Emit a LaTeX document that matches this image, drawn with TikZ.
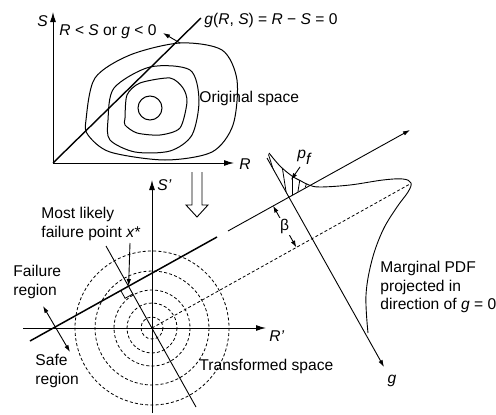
\documentclass[tikz,border=0pt]{standalone}
\usepackage{fontspec}
\setmainfont{Liberation Sans}
\usetikzlibrary{arrows.meta, calc}

\begin{document}
\begin{tikzpicture}[x=1pt, y=-1pt, >={Latex[length=7pt,width=4.5pt]},
  font=\fontsize{15.6}{18.5}\selectfont, line width=0.9pt,
  axis/.style={-{Latex[length=10pt,width=6pt]}, line width=1pt},
  lbl/.style={inner sep=0pt, anchor=west},
  contour/.style={line width=1pt, smooth cycle},
  ring/.style={dash pattern=on 3pt off 2.2pt, line width=0.8pt}]
  \useasboundingbox (0,0) rectangle (496,415);

  % Original space
  \coordinate (O) at (53,163);
  \coordinate (gtop) at (201,18);
  \draw[axis] (O) -- (53,12) coordinate (Stop);
  \draw[axis] (O) -- (234,163) coordinate (Rend);
  \draw[line width=1.4pt] (O) -- (gtop);
  \draw[contour] plot coordinates {(86,120) (95,78) (130,55) (180,43) (222,50)
    (237,80) (233,125) (212,152) (165,160) (110,152) (88,135)};
  \draw[contour] plot coordinates {(108,120) (114,88) (150,67) (190,70)
    (199,100) (192,135) (170,151) (135,152) (110,140)};
  \draw[contour, tension=0.45] plot coordinates {(125,118) (127,95) (140,83)
    (170,78) (183,88) (187,102) (180,128) (160,135) (137,133) (125,125)};
  \draw[line width=1pt] (150,108) circle (12);
  \coordinate (fail0) at (180,43);
  \draw[->] (fail0) -- (163,33);
  \node[lbl] (S) at (37,21) {\textit{S}};
  \node[lbl] (R) at (239,164) {\textit{R}};
  \node[lbl] (fail) at (59,32) {\textit{R} < \textit{S} or \textit{g} < 0};
  \node[lbl] (geq) at (204,20) {\textit{g}(\textit{R}, \textit{S}) = \textit{R} − \textit{S} = 0};
  \node[lbl] (orig) at (199,98) {Original space};

  % Transformation
  \draw[fill=white, line width=0.9pt] (192,172) -- (192,205) -- (186,205) -- (197,217)
    -- (208,205) -- (202,205) -- (202,172);

  % Transformed space
  \coordinate (U) at (152,328);
  \draw[axis] (152,413) -- (152,180) coordinate (Sp);
  \draw[axis] (23,328) -- (266,328) coordinate (Rp);
  \foreach \r in {11,25,38,57,77}
    \draw[ring] (U) circle (\r);
  \coordinate (L1) at (30,341);
  \coordinate (L2) at (217,237);
  \coordinate (L3) at (228,231);
  \coordinate (L4) at (410,130);
  \draw[line width=1.5pt] (L1) -- (L2);
  \draw[->] (L3) -- (L4);
  % perpendicular through the origin
  \coordinate (F) at (128.6,286);
  \draw (106,246) -- (196,407);
  \draw[line width=0.8pt] ($(F)+(-7.9,4.4)$) -- ++(4.4,7.9) -- ++(7.9,-4.4);
  \draw[dash pattern=on 3pt off 2.2pt, line width=0.8pt] (U) -- (410,184) coordinate (tip);
  % g axis with marginal PDF
  \coordinate (O2) at (289,197);
  \draw[->] (267,158) -- (384,367) coordinate (gend);
  \draw plot[smooth, tension=0.6] coordinates {(269,153) (280,166) (292,176)
    (301,181) (309,185) (320,187) (350,185) (383,180) (403,179) (411,183)
    (408,192) (397,207) (383,230) (372,260) (366,295) (368,333)};
  \begin{scope}
    \clip plot[smooth, tension=0.6] coordinates {(269,153) (280,166) (292,176)
      (301,181) (309,185)} -- (O2) -- (267,158) -- cycle;
    \foreach \x in {250,264,...,334}
      \draw[line width=0.8pt] (292,230) -- (\x,140);
  \end{scope}
  % beta
  \coordinate (B1) at (273,205.6);
  \coordinate (B2) at (296.4,247.5);
  \draw[<->] (B1) -- node[fill=white, inner sep=1pt] (beta) {β} (B2);
  % labels
  \node[lbl] (pf) at (297,157) {\textit{p}$_{\textit{f}}$};
  \draw[->] (300,167) -- (291,180);
  \node[lbl] (Spl) at (157,185) {\textit{S'}};
  \node[lbl] (Rpl) at (269,336) {\textit{R'}};
  \node (g) at (392,381) {\textit{g}};
  \node[lbl, align=left] (mlf) at (41,224) {Most likely\\failure point \textit{x}*};
  \draw[->] (130,243) -- (F);
  \node[lbl, align=left] (freg) at (13,282) {Failure\\region};
  \node[lbl, align=left] (sreg) at (35,371) {Safe\\region};
  \draw[<->] (43,306) -- (70,352);
  \node[lbl] (trans) at (199,366) {Transformed space};
  \node[lbl, align=left] (pdf) at (380,287) {Marginal PDF\\projected in\\direction of \textit{g} = 0};
\end{tikzpicture}
\end{document}
